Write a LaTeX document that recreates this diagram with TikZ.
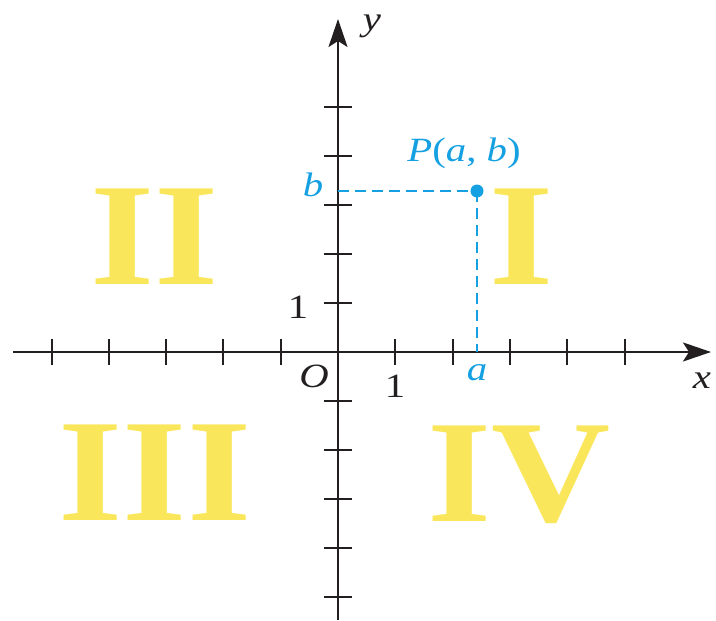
\documentclass[tikz,border=0pt]{standalone}
\usepackage{fontspec}
\setmainfont{Liberation Serif}
\usetikzlibrary{arrows.meta}
\definecolor{axisblack}{RGB}{35,31,32}
\definecolor{quadyellow}{RGB}{250,230,90}
\definecolor{ptblue}{RGB}{20,160,225}
\begin{document}
\begin{tikzpicture}[x=1pt,y=-1pt,
  axis/.style={draw=axisblack, line width=2.2pt, -{Stealth[length=28pt,width=19pt,inset=6pt]}},
  tickmark/.style={draw=axisblack, line width=2pt},
  quad/.style={text=quadyellow, font=\fontsize{146}{150}\selectfont\bfseries, xscale=1.13, anchor=base, inner sep=0pt},
  lbl/.style={text=axisblack, font=\fontsize{34}{40}\selectfont, xscale=1.2, inner sep=0pt},
  bluelbl/.style={lbl, text=ptblue},
  guide/.style={draw=ptblue, line width=2pt, dash pattern=on 11pt off 6pt}
]
\useasboundingbox (0,0) rectangle (716,621);
% quadrant numerals
\node[quad] (q1) at (522,284) {I};
\node[quad] (q2) at (155,284) {II};
\node[quad] (q3) at (155,520) {III};
\node[quad] (q4) at (519,521) {IV};
% axes
\coordinate (O) at (338,352);
\coordinate (xstart) at (13,352);
\coordinate (xend) at (711,352);
\coordinate (ystart) at (338,620);
\coordinate (yend) at (338,19);
\foreach \k in {-5,-4,-3,-2,-1,1,2,3,4,5} {
  \draw[tickmark] ({338+\k*57.3},339) -- ({338+\k*57.3},365);
  \draw[tickmark] (324,{352-\k*49}) -- (352,{352-\k*49});
}
\draw[axis] (xstart) -- (xend);
\draw[axis] (ystart) -- (yend);
% point
\coordinate (bpt) at (338,191);
\coordinate (apt) at (477,352);
\node[circle, fill=ptblue, inner sep=0pt, minimum size=13pt] (P) at (477,191) {};
\draw[guide] (bpt) -- (P.center);
\draw[guide] (P.center) -- (apt);
% labels
\node[lbl] (ylab) at (372,26) {\textit{y}};
\node[lbl] (xlab) at (702,381) {\textit{x}};
\node[lbl] (olab) at (314,376) {\textit{O}};
\node[lbl] (onex) at (395,386) {1};
\node[lbl] (oney) at (298,307) {1};
\node[bluelbl] (alab) at (477,373) {\textit{a}};
\node[bluelbl] (blab) at (313,185) {\textit{b}};
\node[bluelbl] (plab) at (464,153) {\textit{P}(\textit{a}, \textit{b})};
\end{tikzpicture}
\end{document}
